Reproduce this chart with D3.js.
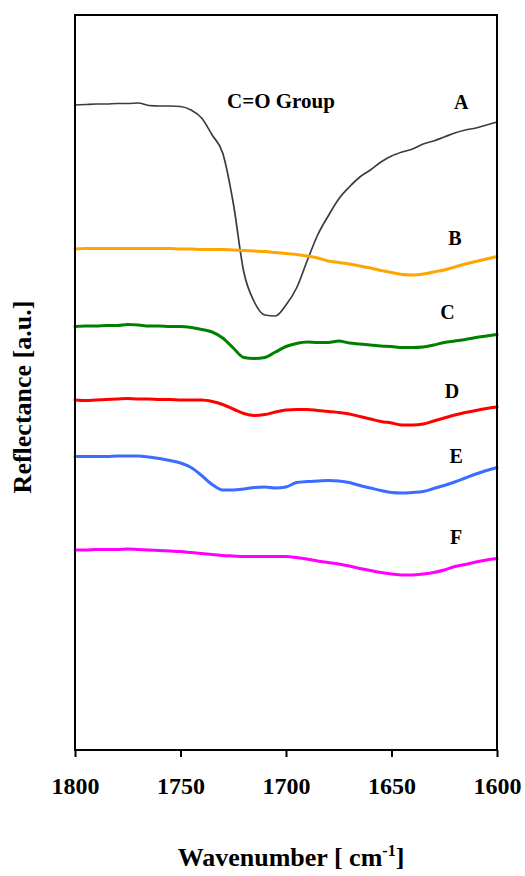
<!DOCTYPE html>
<html>
<head>
<meta charset="utf-8">
<script src="https://cdn.jsdelivr.net/npm/d3@7"></script>
<style>
  html, body { margin: 0; padding: 0; background: #fff; }
  svg { display: block; }
  text { font-family: "Liberation Serif", "Times New Roman", Times, serif; font-weight: bold; fill: #000; }
</style>
</head>
<body>
<svg id="chart" width="525" height="876"></svg>
<script>
// Wavenumber grid (cm^-1), every 5 cm^-1 from 1800 down to 1600
const wavenumbers = d3.range(0, 41).map(i => 1800 - 5 * i);

// Reflectance spectra (arbitrary units, stacked with offsets)
const seriesA = [6.45, 6.455, 6.46, 6.46, 6.465, 6.465, 6.47, 6.445, 6.44, 6.44,
  6.435, 6.40, 6.32, 6.15, 5.97, 5.47, 4.78, 4.48, 4.35, 4.34,
  4.45, 4.62, 4.89, 5.15, 5.34, 5.51, 5.63, 5.73, 5.80, 5.88,
  5.94, 5.98, 6.01, 6.06, 6.09, 6.13, 6.17, 6.20, 6.22, 6.25, 6.28];
const seriesB = [5.01, 5.015, 5.015, 5.015, 5.015, 5.015, 5.015, 5.015, 5.015, 5.015,
  5.01, 5.01, 5.005, 5.005, 5.005, 5.00, 4.995, 4.99, 4.985, 4.975,
  4.965, 4.955, 4.94, 4.92, 4.89, 4.875, 4.86, 4.84, 4.82, 4.795,
  4.775, 4.755, 4.75, 4.76, 4.78, 4.80, 4.83, 4.86, 4.885, 4.91, 4.935];
const seriesC = [4.235, 4.24, 4.24, 4.245, 4.245, 4.255, 4.25, 4.24, 4.24, 4.235,
  4.235, 4.225, 4.205, 4.18, 4.12, 4.02, 3.925, 3.915, 3.925, 3.98,
  4.035, 4.065, 4.08, 4.075, 4.075, 4.09, 4.07, 4.06, 4.05, 4.04,
  4.035, 4.025, 4.025, 4.03, 4.05, 4.075, 4.09, 4.105, 4.125, 4.14, 4.155];
const seriesD = [3.50, 3.495, 3.50, 3.505, 3.51, 3.515, 3.51, 3.51, 3.505, 3.505,
  3.50, 3.50, 3.50, 3.485, 3.455, 3.41, 3.365, 3.345, 3.355, 3.38,
  3.40, 3.405, 3.405, 3.395, 3.385, 3.375, 3.36, 3.335, 3.31, 3.285,
  3.27, 3.25, 3.25, 3.26, 3.29, 3.32, 3.35, 3.375, 3.395, 3.415, 3.43];
const seriesE = [2.935, 2.935, 2.935, 2.935, 2.94, 2.94, 2.94, 2.93, 2.915, 2.895,
  2.87, 2.825, 2.745, 2.655, 2.60, 2.60, 2.61, 2.625, 2.63, 2.62,
  2.63, 2.675, 2.685, 2.69, 2.695, 2.69, 2.675, 2.645, 2.62, 2.595,
  2.575, 2.57, 2.575, 2.585, 2.615, 2.645, 2.68, 2.72, 2.76, 2.795, 2.825];
const seriesF = [2.00, 2.00, 2.005, 2.005, 2.005, 2.01, 2.005, 2.00, 1.995, 1.99,
  1.985, 1.975, 1.965, 1.955, 1.945, 1.94, 1.935, 1.935, 1.935, 1.935,
  1.935, 1.925, 1.91, 1.89, 1.875, 1.86, 1.84, 1.815, 1.795, 1.775,
  1.76, 1.75, 1.75, 1.76, 1.775, 1.80, 1.835, 1.855, 1.88, 1.90, 1.915];

const seriesNames = ["A", "B", "C", "D", "E", "F"];
const seriesValues = [seriesA, seriesB, seriesC, seriesD, seriesE, seriesF];
const seriesColors = ["#3c3c3c", "#ffa500", "#008000", "#ff0000", "#3a6cff", "#ff00ff"];
const seriesWidths = [1.7, 3, 3, 3, 3, 3];

// Curve labels: [wavenumber, reflectance] of the text baseline centre
const labelWavenumbers = [1617, 1620, 1623.5, 1621.3, 1619.4, 1619.4];
const labelLevels = [6.41, 5.05, 4.31, 3.52, 2.87, 2.06];

const xTicks = [1800, 1750, 1700, 1650, 1600];

const svg = d3.select("#chart");
const margin = { left: 75, right: 28, top: 15, bottom: 126 };
const W = 525, H = 876;

const x = d3.scaleLinear().domain([1800, 1600]).range([margin.left, W - margin.right]);
const y = d3.scaleLinear().domain([0, 7.35]).range([H - margin.bottom, margin.top]);

// Spectra
const line = d3.line()
  .x(d => x(d[0]))
  .y(d => y(d[1]))
  .curve(d3.curveMonotoneX);

seriesValues.forEach((vals, i) => {
  svg.append("path")
    .datum(wavenumbers.map((w, j) => [w, vals[j]]))
    .attr("fill", "none")
    .attr("stroke", seriesColors[i])
    .attr("stroke-width", seriesWidths[i])
    .attr("stroke-linejoin", "round")
    .attr("stroke-linecap", "round")
    .attr("d", line);
});

// Plot frame
svg.append("rect")
  .attr("x", x(1800))
  .attr("y", y(7.35))
  .attr("width", x(1600) - x(1800))
  .attr("height", y(0) - y(7.35))
  .attr("fill", "none")
  .attr("stroke", "#000")
  .attr("stroke-width", 2);

// Bottom axis
const xAxis = svg.append("g")
  .attr("transform", `translate(0,${y(0)})`)
  .call(d3.axisBottom(x).tickValues(xTicks).tickFormat(d3.format("d")).tickSize(7).tickPadding(20));
xAxis.attr("font-family", null).attr("font-size", null);
xAxis.select(".domain").remove();
xAxis.selectAll(".tick line").attr("stroke", "#000").attr("stroke-width", 2);
xAxis.selectAll(".tick text")
  .attr("fill", "#000")
  .style("font-size", "24px");

// Axis titles
const xTitle = svg.append("text")
  .attr("x", 291)
  .attr("y", 866)
  .attr("text-anchor", "middle")
  .style("font-size", "26px");
xTitle.append("tspan").text("Wavenumber [ cm");
xTitle.append("tspan").attr("dy", -10).style("font-size", "16px").text("-1");
xTitle.append("tspan").attr("dy", 10).text("]");

svg.append("text")
  .attr("transform", "translate(31,397) rotate(-90)")
  .attr("text-anchor", "middle")
  .style("font-size", "26px")
  .text("Reflectance [a.u.]");

// Annotations
svg.append("text")
  .attr("x", x(1702.4))
  .attr("y", y(6.42))
  .attr("text-anchor", "middle")
  .style("font-size", "21px")
  .text("C=O Group");

seriesNames.forEach((name, i) => {
  svg.append("text")
    .attr("x", x(labelWavenumbers[i]))
    .attr("y", y(labelLevels[i]))
    .attr("text-anchor", "middle")
    .style("font-size", "20px")
    .text(name);
});
</script>
</body>
</html>
